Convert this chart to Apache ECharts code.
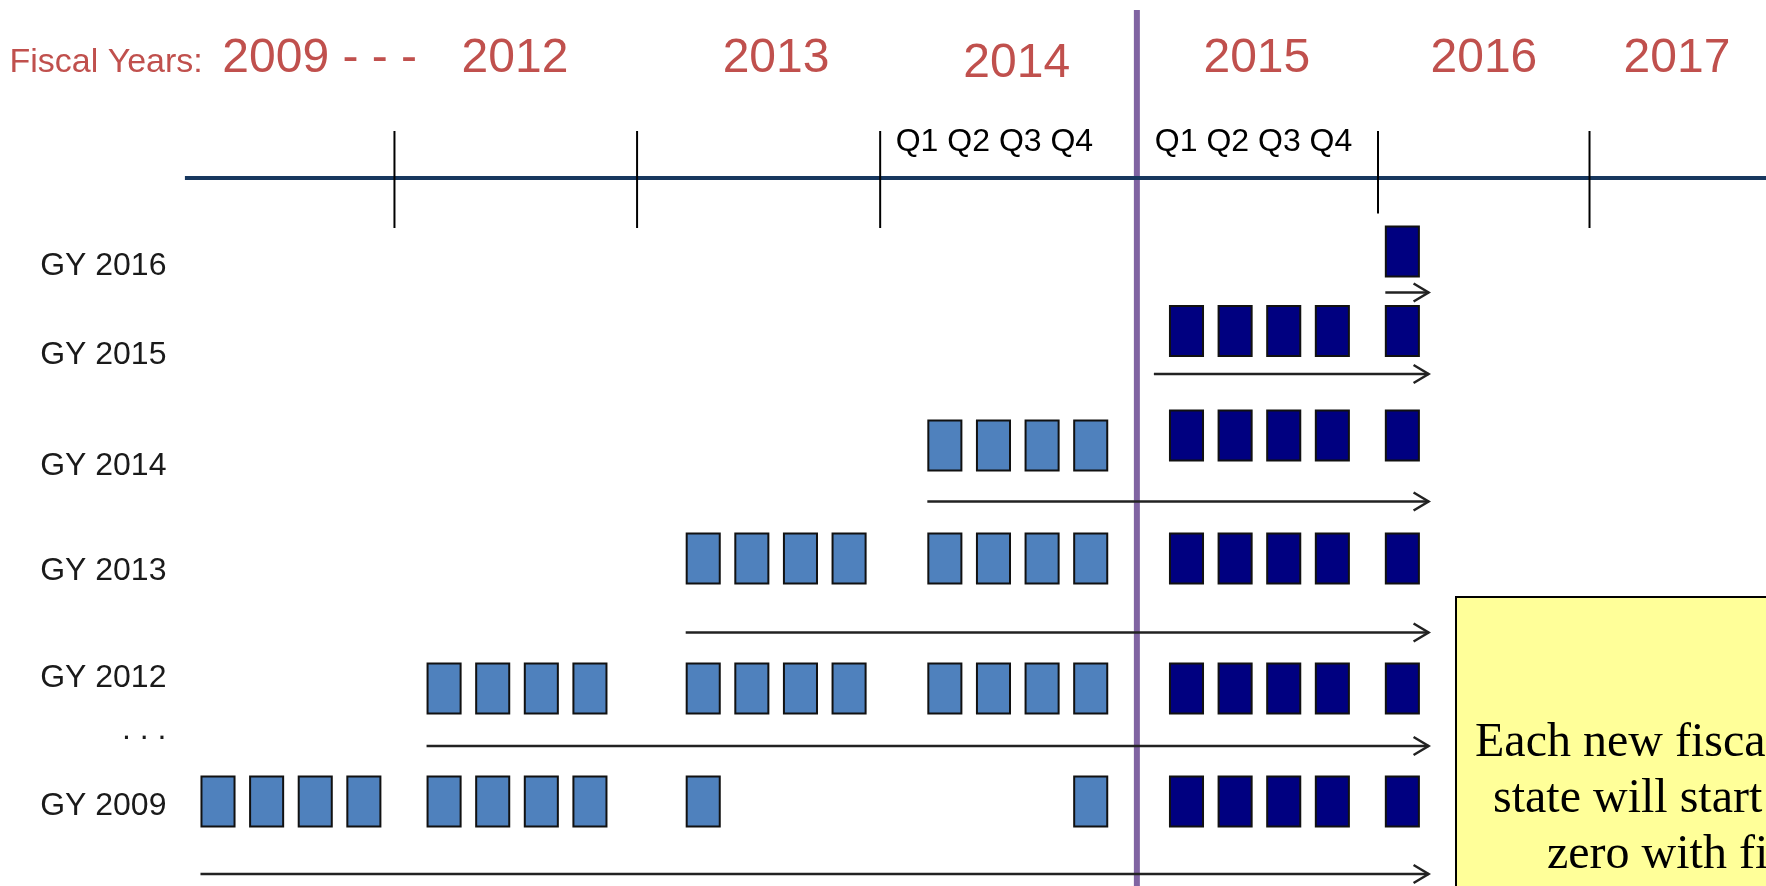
<!DOCTYPE html>
<html>
<head>
<meta charset="utf-8">
<title>Fiscal years timeline</title>
<script src="https://cdn.jsdelivr.net/npm/echarts@6.0.0/dist/echarts.min.js"></script>
<style>
  html, body { margin: 0; padding: 0; background: #fff; }
  #chart { width: 1766px; height: 886px; }
</style>
</head>
<body>
<div id="chart"></div>
<script>
// x unit = pitch of one quarter box, 0 = left edge of the first 2009 box
// y unit = height of one box, 0 = the timeline, growing downwards
const periods = ['2009', '2012', '2013', '2014', '2015', '2016'];
const periodStart = [0, 4.65, 9.98, 14.95, 19.92, 24.36];
const currentFrom = '2015'; // boxes from this year on are dark

const rowLabels = ['GY 2016', 'GY 2015', 'GY 2014', 'GY 2013', 'GY 2012', 'GY 2009'];
const rowY = [1.47, 3.06, 5.15, 7.61, 10.21, 12.47];
const rowLabelY = [1.77, 3.55, 5.76, 7.87, 10.0, 12.57];
const lightShift = [0, 0, 0.2, 0, 0, 0];
const rowQuarters = [
  { 2016: [1] },
  { 2015: [1, 2, 3, 4], 2016: [1] },
  { 2014: [1, 2, 3, 4], 2015: [1, 2, 3, 4], 2016: [1] },
  { 2013: [1, 2, 3, 4], 2014: [1, 2, 3, 4], 2015: [1, 2, 3, 4], 2016: [1] },
  { 2012: [1, 2, 3, 4], 2013: [1, 2, 3, 4], 2014: [1, 2, 3, 4], 2015: [1, 2, 3, 4], 2016: [1] },
  { 2009: [1, 2, 3, 4], 2012: [1, 2, 3, 4], 2013: [1], 2014: [4], 2015: [1, 2, 3, 4], 2016: [1] }
];
const arrowY = [2.29, 3.92, 6.47, 9.09, 11.36, 13.92];
const arrowFrom = [24.37, 19.61, 14.95, 9.98, 4.65, 0];
const arrowTo = 25.26;
const ellipsisY = 11.05;

const yearLabels = ['2009 - - -', '2012', '2013', '2014', '2015', '2016', '2017'];
const yearLabelX = [0.45, 5.37, 10.74, 15.69, 20.63, 25.30, 29.27];
const yearLabelY = [-2.39, -2.39, -2.39, -2.29, -2.39, -2.39, -2.39];
const yearTicks = [3.99, 8.98, 13.98, 24.22, 28.57];
const tickBottom = [1.0, 1.0, 1.0, 0.71, 1.0];
const quarterLabels = ['Q1 Q2 Q3 Q4', 'Q1 Q2 Q3 Q4'];
const quarterLabelX = [14.30, 19.63];
const nowLine = 19.26;

const noteLines = ['Each new fisca', 'state will start', 'zero with fi'];

const sans = '"Liberation Sans", Arial, sans-serif';
const serif = '"Liberation Serif", "Times New Roman", serif';

// boxes
let boxes = [];
rowQuarters.forEach((row, i) => {
  Object.keys(row).forEach((year) => {
    let p = periods.indexOf(year);
    let dark = year >= currentFrom;
    row[year].forEach((q) => {
      boxes.push([periodStart[p] + q - 1, rowY[i] + (dark ? 0 : lightShift[i]), dark ? 1 : 0]);
    });
  });
});

let chart = echarts.init(document.getElementById('chart'));

let option = {
  animation: false,
  backgroundColor: '#fff',
  grid: { left: 6, right: 0, top: 0, bottom: 0 },
  xAxis: { type: 'value', min: -4, max: 32.2, show: false },
  yAxis: { type: 'value', min: -3.56, max: 14.16, inverse: true, show: false },
  graphic: [
    {
      type: 'rect', left: 1455, top: 596, z: 10,
      shape: { width: 400, height: 400 },
      style: { fill: '#FFFF99', stroke: '#000', lineWidth: 2 }
    },
    { type: 'text', x: 1475, y: 743, z: 11, style: { text: noteLines[0], font: '48px ' + serif, fill: '#000', verticalAlign: 'middle' } },
    { type: 'text', x: 1493, y: 799, z: 11, style: { text: noteLines[1], font: '48px ' + serif, fill: '#000', verticalAlign: 'middle' } },
    { type: 'text', x: 1547, y: 855, z: 11, style: { text: noteLines[2], font: '48px ' + serif, fill: '#000', verticalAlign: 'middle' } }
  ],
  series: [
    {
      // today's line
      type: 'custom',
      z: 1,
      data: [[nowLine, -3.36]],
      renderItem: function (params, api) {
        let a = api.coord([api.value(0), api.value(1)]);
        let b = api.coord([api.value(0), 14.16]);
        return { type: 'line', shape: { x1: a[0], y1: a[1], x2: b[0], y2: b[1] }, style: { stroke: '#8064A2', lineWidth: 6 } };
      }
    },
    {
      // timeline
      type: 'custom',
      z: 2,
      data: [[-0.32, 0]],
      renderItem: function (params, api) {
        let a = api.coord([api.value(0), api.value(1)]);
        let b = api.coord([32.2, 0]);
        return { type: 'line', shape: { x1: a[0], y1: a[1], x2: b[0], y2: b[1] }, style: { stroke: '#17375E', lineWidth: 4 } };
      }
    },
    {
      // year ticks
      type: 'custom',
      z: 3,
      data: yearTicks.map((x, i) => [x, tickBottom[i]]),
      renderItem: function (params, api) {
        let a = api.coord([api.value(0), -0.94]);
        let b = api.coord([api.value(0), api.value(1)]);
        return { type: 'line', shape: { x1: a[0], y1: a[1], x2: b[0], y2: b[1] }, style: { stroke: '#000', lineWidth: 2 } };
      }
    },
    {
      // year labels
      type: 'custom',
      z: 3,
      data: yearLabelX.map((x, i) => [x, yearLabelY[i]]),
      renderItem: function (params, api) {
        let p = api.coord([api.value(0), api.value(1)]);
        return { type: 'text', x: p[0], y: p[1], style: { text: yearLabels[params.dataIndex], font: '48px ' + sans, fill: '#C0504D', align: 'left', verticalAlign: 'middle' } };
      }
    },
    {
      // "Fiscal Years:" caption and quarter labels
      type: 'custom',
      z: 3,
      data: [[-3.93, -2.3], [quarterLabelX[0], -0.726], [quarterLabelX[1], -0.726]],
      renderItem: function (params, api) {
        let p = api.coord([api.value(0), api.value(1)]);
        let first = params.dataIndex === 0;
        return {
          type: 'text', x: p[0], y: p[1],
          style: {
            text: first ? 'Fiscal Years:' : quarterLabels[params.dataIndex - 1],
            font: (first ? '34px ' : '32px ') + sans,
            fill: first ? '#C0504D' : '#000',
            align: 'left', verticalAlign: 'middle'
          }
        };
      }
    },
    {
      // row labels
      type: 'custom',
      z: 3,
      data: rowLabelY.map((y) => [-0.70, y]).concat([[-0.70, ellipsisY]]),
      renderItem: function (params, api) {
        let p = api.coord([api.value(0), api.value(1)]);
        let t = params.dataIndex < rowLabels.length ? rowLabels[params.dataIndex] : '. . .';
        return { type: 'text', x: p[0], y: p[1], style: { text: t, font: '32px ' + sans, fill: '#1a1a1a', align: 'right', verticalAlign: 'middle' } };
      }
    },
    {
      // arrows
      type: 'custom',
      z: 4,
      data: arrowY.map((y, i) => [arrowFrom[i], y]),
      renderItem: function (params, api) {
        let a = api.coord([api.value(0), api.value(1)]);
        let b = api.coord([arrowTo, api.value(1)]);
        return {
          type: 'group',
          children: [
            { type: 'line', shape: { x1: a[0], y1: a[1], x2: b[0], y2: b[1] }, style: { stroke: '#222', lineWidth: 2.5 } },
            { type: 'polyline', shape: { points: [[b[0] - 15, b[1] - 9], [b[0], b[1]], [b[0] - 15, b[1] + 9]] }, style: { stroke: '#222', lineWidth: 2.5, fill: null } }
          ]
        };
      }
    },
    {
      // quarter boxes
      type: 'custom',
      z: 5,
      data: boxes,
      renderItem: function (params, api) {
        let p = api.coord([api.value(0), api.value(1)]);
        let s = api.size([0.68, 1.0]);
        return {
          type: 'rect',
          shape: { x: p[0] + 1, y: p[1] - s[1] / 2, width: s[0], height: s[1] },
          style: { fill: api.value(2) ? '#000080' : '#4F81BD', stroke: '#111', lineWidth: 2 }
        };
      }
    }
  ]
};

chart.setOption(option);
</script>
</body>
</html>
